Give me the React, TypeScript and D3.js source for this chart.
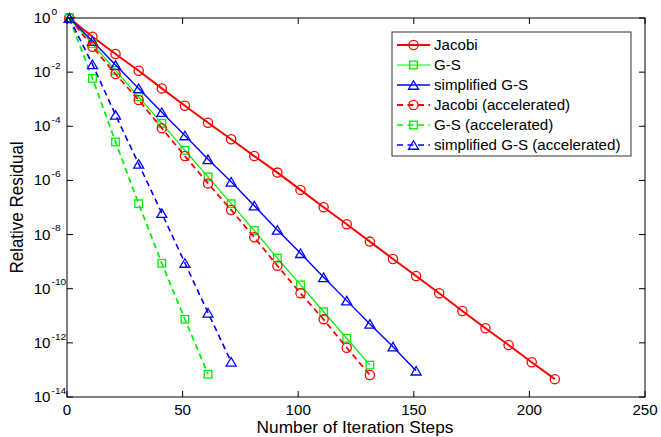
import React from "react";
import * as d3 from "d3";

const ITER = [1, 11, 21, 31, 41, 51, 61, 71, 81, 91, 101, 111, 121, 131, 141, 151, 161, 171, 181, 191, 201, 211];

const jacobi = [1, 2.04e-1, 4.68e-2, 1.12e-2, 2.51e-3, 5.75e-4, 1.35e-4, 3.31e-5, 7.94e-6, 1.95e-6, 4.47e-7, 1.02e-7, 2.4e-8, 5.5e-9, 1.26e-9, 2.95e-10, 6.76e-11, 1.51e-11, 3.47e-12, 8.32e-13, 1.91e-13, 4.57e-14];
const gs = [1, 1.12e-1, 1.17e-2, 1.23e-3, 1.29e-4, 1.29e-5, 1.35e-6, 1.38e-7, 1.41e-8, 1.35e-9, 1.38e-10, 1.41e-11, 1.48e-12, 1.51e-13];
const sgs = [1, 1.41e-1, 1.82e-2, 2.51e-3, 3.31e-4, 4.57e-5, 6.03e-6, 8.91e-7, 1.17e-7, 1.48e-8, 2.04e-9, 2.63e-10, 3.63e-11, 5.01e-12, 7.24e-13, 9.33e-14];
const jacobiAcc = [1, 8.71e-2, 8.51e-3, 9.33e-4, 8.51e-5, 7.94e-6, 7.76e-7, 8.13e-8, 7.94e-9, 7.08e-10, 6.76e-11, 7.41e-12, 6.61e-13, 6.46e-14];
const gsAcc = [1, 5.89e-3, 2.63e-5, 1.38e-7, 8.71e-10, 7.41e-12, 6.92e-14];
const sgsAcc = [1, 1.95e-2, 2.63e-4, 4.07e-6, 6.17e-8, 8.91e-10, 1.29e-11, 2.0e-13];

const X_TICKS = [0, 50, 100, 150, 200, 250];
const Y_EXPONENTS = [0, -2, -4, -6, -8, -10, -12, -14];

const SERIES = [
  { name: "Jacobi", values: jacobi, color: "#ff0000", marker: "circle", dashed: false, width: 2 },
  { name: "G-S", values: gs, color: "#00ee00", marker: "square", dashed: false, width: 1.2 },
  { name: "simplified G-S", values: sgs, color: "#0000ff", marker: "triangle", dashed: false, width: 1.4 },
  { name: "Jacobi (accelerated)", values: jacobiAcc, color: "#ff0000", marker: "circle", dashed: true, width: 1.8 },
  { name: "G-S (accelerated)", values: gsAcc, color: "#00ee00", marker: "square", dashed: true, width: 1.7 },
  { name: "simplified G-S (accelerated)", values: sgsAcc, color: "#0000ff", marker: "triangle", dashed: true, width: 1.6 },
];

const W = 661;
const H = 437;
const L = 67, R = 645, T = 18, B = 397;
const FONT = "'Liberation Sans', Arial, Helvetica, sans-serif";
const SX = 1.08;

function Marker({ type, x, y, color }: { type: string; x: number; y: number; color: string }) {
  if (type === "circle") {
    return <circle cx={x} cy={y} r={4.6} fill="none" stroke={color} strokeWidth={1.3} />;
  }
  if (type === "square") {
    const s = 7.6;
    return <rect x={x - s / 2} y={y - s / 2} width={s} height={s} fill="none" stroke={color} strokeWidth={1.3} />;
  }
  const w = 10, h = 8.5;
  const p = `M${x},${y - h / 2}L${x + w / 2},${y + h / 2}L${x - w / 2},${y + h / 2}Z`;
  return <path d={p} fill="none" stroke={color} strokeWidth={1.3} />;
}

function STxt({ x, y, size, anchor, children }: any) {
  return (
    <text
      transform={`translate(${x},${y}) scale(${SX},1)`}
      fontSize={size}
      textAnchor={anchor}
      fontFamily={FONT}
      fill="#000"
    >
      {children}
    </text>
  );
}

export default function App() {
  const x = d3.scaleLinear().domain([0, 250]).range([L, R]);
  const y = d3.scaleLog().domain([1e-14, 1]).range([B, T]);
  const line = d3
    .line<[number, number]>()
    .x((d) => x(d[0]))
    .y((d) => y(d[1]));

  const legX = 392, legY = 32, legW = 239, legH = 124;
  const rowH = 20;

  return (
    <svg
      width={W}
      height={H}
      style={{ position: "absolute", left: 0, top: 0, background: "#fff" }}
    >
      <rect x={0} y={0} width={W} height={H} fill="#fff" />
      {/* series */}
      {SERIES.map((s, i) => {
        const pts: [number, number][] = s.values.map((v, j) => [ITER[j], v]);
        return (
          <g key={i}>
            <path
              d={line(pts) || ""}
              fill="none"
              stroke={s.color}
              strokeWidth={s.width}
              strokeDasharray={s.dashed ? "6,4" : undefined}
            />
            {pts.map((p, j) => (
              <Marker key={j} type={s.marker} x={x(p[0])} y={y(p[1])} color={s.color} />
            ))}
          </g>
        );
      })}
      {/* axes box */}
      <rect x={L} y={T} width={R - L} height={B - T} fill="none" stroke="#000" strokeWidth={1} />
      {X_TICKS.map((t) => (
        <g key={"x" + t}>
          <line x1={x(t)} x2={x(t)} y1={B} y2={B - 6} stroke="#000" />
          <line x1={x(t)} x2={x(t)} y1={T} y2={T + 6} stroke="#000" />
          <STxt x={x(t)} y={415} size={14} anchor="middle">
            {t}
          </STxt>
        </g>
      ))}
      {Y_EXPONENTS.map((e) => {
        const yy = y(Math.pow(10, e));
        return (
          <g key={"y" + e}>
            <line x1={L} x2={L + 6} y1={yy} y2={yy} stroke="#000" />
            <line x1={R} x2={R - 6} y1={yy} y2={yy} stroke="#000" />
            <STxt x={50.5} y={yy + 5} size={14} anchor="end">
              10
            </STxt>
            <STxt x={51.5} y={yy - 3.3} size={9.5} anchor="start">
              {e}
            </STxt>
          </g>
        );
      })}
      {/* axis labels */}
      <STxt x={(L + R) / 2 - 1} y={433} size={16} anchor="middle">
        Number of Iteration Steps
      </STxt>
      <text
        transform={`translate(23,${(T + B) / 2}) rotate(-90) scale(1.03,${SX})`}
        fontSize={16.5}
        textAnchor="middle"
        fontFamily={FONT}
        fill="#000"
      >
        Relative Residual
      </text>
      {/* legend */}
      <rect x={legX} y={legY} width={legW} height={legH} fill="#fff" stroke="#333" strokeWidth={1} />
      {SERIES.map((s, i) => {
        const cy = 45 + i * rowH;
        return (
          <g key={"leg" + i}>
            <line
              x1={397}
              x2={430}
              y1={cy}
              y2={cy}
              stroke={s.color}
              strokeWidth={s.width}
              strokeDasharray={s.dashed ? "6,4.5" : undefined}
            />
            <Marker type={s.marker} x={413.5} y={cy} color={s.color} />
            <STxt x={434} y={cy + 5} size={14} anchor="start">
              {s.name}
            </STxt>
          </g>
        );
      })}
    </svg>
  );
}
